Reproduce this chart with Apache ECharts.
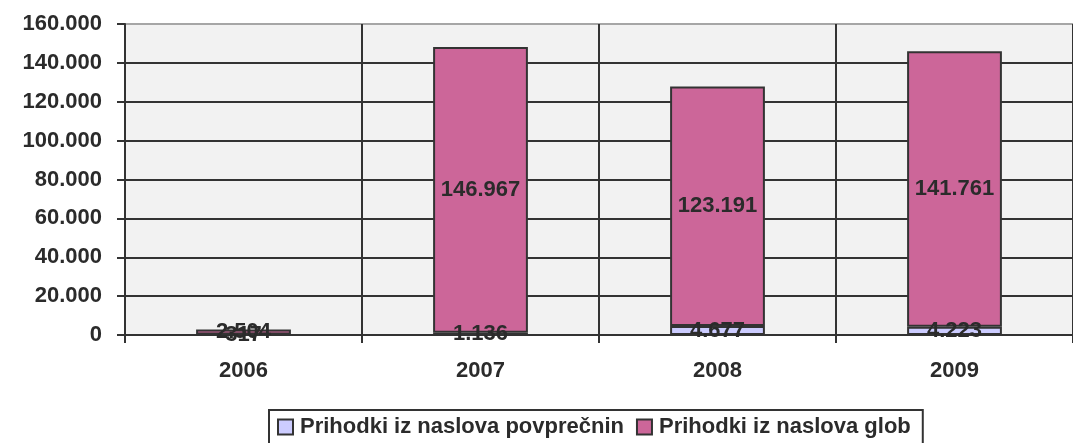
<!DOCTYPE html>
<html>
<head>
<meta charset="utf-8">
<script src="https://cdn.jsdelivr.net/npm/echarts@6/dist/echarts.min.js"></script>
<style>
  html, body { margin: 0; padding: 0; background: #fff; }
  #chart { width: 1073px; height: 443px; }
</style>
</head>
<body>
<div id="chart"></div>
<script>
const years = ['2006', '2007', '2008', '2009'];
const povprecnine = [317, 1136, 4677, 4223];
const globe = [2504, 146967, 123191, 141761];
const seriesNames = ['Prihodki iz naslova povprečnin', 'Prihodki iz naslova glob'];

const fmt = v => String(v).replace(/\B(?=(\d{3})+(?!\d))/g, '.');
const font = { fontFamily: 'Liberation Sans, Arial, sans-serif', fontWeight: 'bold', fontSize: 22, color: '#2b2b2b' };

const chart = echarts.init(document.getElementById('chart'));

const label = {
  show: true,
  position: 'inside',
  formatter: p => fmt(p.value),
  ...font
};

chart.setOption({
  animation: false,
  backgroundColor: '#fff',
  grid: { left: 125, right: -12, top: 24, bottom: 108, show: true, backgroundColor: '#f2f2f2', borderWidth: 0 },
  legend: {
    left: 269,
    top: 410,
    padding: [6, 12, 10, 8],
    borderColor: '#333',
    borderWidth: 2,
    borderRadius: 0,
    icon: 'rect',
    itemWidth: 15,
    itemHeight: 15,
    itemGap: 12,
    itemStyle: { borderColor: '#333', borderWidth: 2 },
    textStyle: { ...font, padding: [0, 0, 0, 2] },
    data: seriesNames
  },
  xAxis: {
    type: 'category',
    data: years,
    axisLine: { lineStyle: { color: '#333', width: 2 } },
    axisTick: { show: true, length: 8, lineStyle: { color: '#333', width: 2 } },
    axisLabel: { ...font, margin: 25 },
    splitLine: { show: true, lineStyle: { color: '#333', width: 2 } }
  },
  yAxis: {
    type: 'value',
    min: 0,
    max: 160000,
    interval: 20000,
    axisLine: { show: true, lineStyle: { color: '#333', width: 2 } },
    axisTick: { show: true, length: 8, lineStyle: { color: '#333', width: 2 } },
    axisLabel: { ...font, margin: 23, formatter: v => fmt(v) },
    splitLine: {
      show: true,
      lineStyle: { color: ['#333', '#333', '#333', '#333', '#333', '#333', '#333', '#333', '#a6a6a6'], width: 2 }
    }
  },
  series: [
    {
      name: seriesNames[0],
      type: 'bar',
      stack: 'total',
      barWidth: '40%',
      data: povprecnine,
      itemStyle: { color: '#ccccff', borderColor: '#333', borderWidth: 2 },
      label: label
    },
    {
      name: seriesNames[1],
      type: 'bar',
      stack: 'total',
      barWidth: '40%',
      data: globe,
      itemStyle: { color: '#cc6699', borderColor: '#333', borderWidth: 2 },
      label: label
    }
  ]
});
</script>
</body>
</html>
